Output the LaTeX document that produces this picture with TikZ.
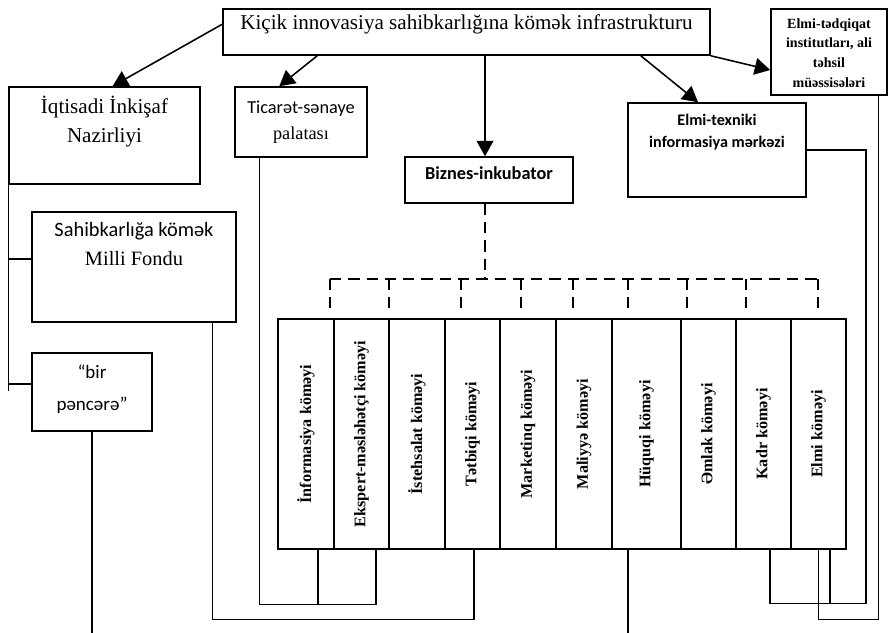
\documentclass[tikz,border=0pt]{standalone}
\usepackage{fontspec}
\setmainfont{Liberation Serif}
\newfontfamily\calibri{Carlito}
\usetikzlibrary{arrows.meta,calc,fit}

\tikzset{
	box/.style={draw, line width=1.1pt, inner sep=0pt},
	toptext/.style={anchor=north, align=center, inner sep=0pt},
	conn/.style={line width=0.8pt},
	arr/.style={line width=1.1pt, -{Triangle[length=11pt,width=12pt]}},
	dashline/.style={line width=1.3pt, dash pattern=on 8pt off 5pt},
	colbox/.style={draw, line width=1.6pt, inner sep=0pt},
	collabel/.style={rotate=90, inner sep=0pt, font=\bfseries\fontsize{11.5}{14}\selectfont}
}

\begin{document}
\begin{tikzpicture}[x=0.025cm, y=-0.025cm]
	\useasboundingbox (0,0) rectangle (888,632);
	
	% boxes
	\node[box, fit={(223,9) (710,55)}, font=\fontsize{15}{18}\selectfont] (infra) {Kiçik innovasiya sahibkarlığına kömək infrastrukturu};
	\node[box, fit={(9,87) (200,184)}, label={[toptext, yshift=-6.5pt, font=\fontsize{15}{21}\selectfont]north:İqtisadi İnkişaf\\Nazirliyi}] (iqt) {};
	\node[box, fit={(235,87) (367,157)}, label={[toptext, yshift=-10pt, font=\fontsize{13}{18.5}\selectfont]north:{\calibri Ticarət-sənaye}\\palatası}] (tic) {};
	\node[box, fit={(405,157) (573,203)}, label={[toptext, yshift=-7.5pt, font=\calibri\bfseries\fontsize{13}{15}\selectfont]north:Biznes-inkubator}] (biz) {};
	\node[box, fit={(628,103) (806,197)}, label={[toptext, yshift=-8pt, font=\calibri\bfseries\fontsize{11.5}{15.6}\selectfont]north:Elmi-texniki\\informasiya mərkəzi}] (etm) {};
	\node[box, fit={(771,9) (887,95)}, label={[toptext, yshift=-7pt, font=\bfseries\fontsize{10}{14}\selectfont]north:Elmi-tədqiqat\\institutları, ali\\təhsil\\müəssisələri}] (eti) {};
	\node[box, fit={(32,212) (236,322)}, label={[toptext, yshift=-7.5pt, font=\fontsize{14.5}{20.6}\selectfont]north:{\calibri Sahibkarlığa kömək}\\Milli Fondu}] (smf) {};
	\node[box, fit={(32,353) (152,431)}, label={[toptext, yshift=-9pt, font=\calibri\fontsize{13.5}{22.8}\selectfont]north:“bir\\pəncərə”}] (bp) {};
	
	% support columns
	\foreach \n/\xa/\xb/\t in {c1/278/334/İnformasiya köməyi, c2/334/389/Ekspert-məsləhətçi köməyi,
		c3/389/445/İstehsalat köməyi, c4/445/500/Tətbiqi köməyi, c5/500/556/Marketinq köməyi,
		c6/556/612/Maliyyə köməyi, c7/612/681/Hüquqi köməyi, c8/681/736/Əmlak köməyi,
		c9/736/791/Kadr köməyi, c10/791/846/Elmi köməyi}
		\node[colbox, fit={(\xa,319) (\xb,549)}, label={[collabel]center:\t}] (\n) {};
	
	% arrows from the top
	\draw[arr] ($(infra.north west)+(0,16)$) -- ($(iqt.north)+(8,0)$);
	\draw[arr] ($(infra.south west)+(95,0)$) -- ($(tic.north west)+(45,0)$);
	\draw[arr] ($(infra.south)+(18.5,0)$) -- ($(biz.north)+(-4,0)$);
	\draw[arr] ($(infra.south east)+(-70,0)$) -- ($(etm.north)+(-19,0)$);
	\draw[arr] (infra.south east) -- ($(eti.west)+(0,18)$);
	
	% dashed tree
	\draw[dashline] ($(biz.south)+(-4,0)$) -- ++(0,75) coordinate (bus);
	\draw[dashline] ($(bus)+(-155,0)$) -- ($(bus)+(333,0)$);
	\foreach \dx in {330,389,461,521,573,628,687,746,818}
		\draw[dashline] (\dx,0 |- bus) -- ++(0,30);
	
	% left side
	\draw[conn] (iqt.south west) -- ++(0,206);
	\draw[conn] ($(smf.west)+(0,-8)$) -- ++(-23,0);
	\draw[conn] ($(bp.west)+(0,-8)$) -- ++(-23,0);
	\draw[conn] (bp.south) -- ++(0,201);
	
	% lines under the columns
	\draw[conn] ($(smf.south east)+(-24,0)$) |- ($(c4.south)+(1.5,69)$) -- ($(c4.south)+(1.5,0)$);
	\draw[conn] ($(tic.south west)+(25,0)$) |- ($(c2.south)+(14.5,54)$) -- ($(c2.south)+(14.5,0)$);
	\draw[conn] ($(c1.south)+(12,0)$) -- ++(0,54);
	\draw[conn] ($(c7.south)+(-18.5,0)$) -- ++(0,83);
	\draw[conn] (etm.east) -| ($(c9.south)+(102.5,53)$) -| ($(c9.south)+(6.5,0)$);
	\draw[conn] ($(c10.south)+(11.5,0)$) -- ++(0,53);
	\draw[conn] ($(eti.south east)+(-9,0)$) |- ($(c10.south)+(0,69)$) -- (c10.south);
\end{tikzpicture}
\end{document}
